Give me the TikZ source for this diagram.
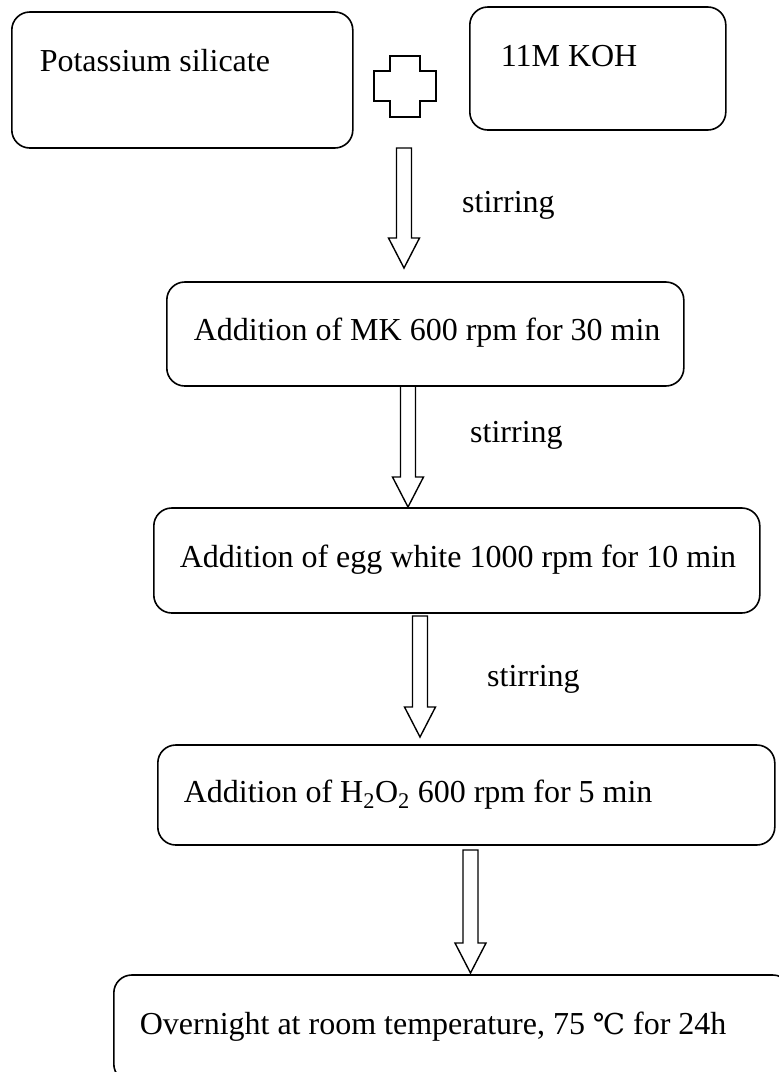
\documentclass[tikz,border=0pt]{standalone}
\usepackage{fontspec}
\setmainfont{Liberation Serif}
\newfontfamily\symfont[Scale=0.9]{DejaVu Serif}
\usetikzlibrary{calc}

\begin{document}
\begin{tikzpicture}[
  x=1pt, y=-1pt,
  stepbox/.style={draw, rounded corners=18pt, line width=1.6pt, inner sep=0pt, anchor=base west, font=\fontsize{32}{38}\selectfont},
  stirtext/.style={anchor=base west, inner sep=0pt, font=\fontsize{32}{38}\selectfont},
  flowarrow/.style={draw, line width=1.4pt, to path={let \p1=(\tikztostart), \p2=(\tikztotarget) in
    (\x1-7.5pt,\y1) -- (\x1-7.5pt,\y2+30pt) -- (\x1-15.5pt,\y2+30pt) -- (\x2,\y2)
    -- (\x1+15.5pt,\y2+30pt) -- (\x1+7.5pt,\y2+30pt) -- (\x1+7.5pt,\y1) -- cycle}}
]
\useasboundingbox (0,0) rectangle (779,1072);
\clip (0,0) rectangle (779,1072);

% Starting materials
\node[stepbox, text height=59pt, text depth=77pt] (silicate) at (11,71) {\makebox[341pt][l]{\hspace*{28pt}Potassium silicate}};
\node[stepbox, text height=59pt, text depth=64pt] (koh) at (469,66) {\makebox[256pt][l]{\hspace*{31pt}11M KOH}};
\draw[line width=1.6pt] (390,56) -- (420,56) -- (420,71) -- (436,71) -- (436,101) -- (420,101)
  -- (420,117) -- (390,117) -- (390,101) -- (374,101) -- (374,71) -- (390,71) -- cycle;

% Mixing steps
\node[stepbox, text height=58pt, text depth=46pt] (mk) at (166,340) {\makebox[517pt][l]{\hspace*{27pt}Addition of MK 600 rpm for 30 min}};
\node[stepbox, text height=59pt, text depth=46pt] (egg) at (153,567) {\makebox[606pt][l]{\hspace*{26pt}Addition of egg white 1000 rpm for 10 min}};
\node[stepbox, text height=57pt, text depth=43pt] (peroxide) at (157,802) {\makebox[617pt][l]{\hspace*{26pt}Addition of H\textsubscript{2}O\textsubscript{2} 600 rpm for 5 min}};
\node[stepbox, text height=59pt, text depth=48pt] (overnight) at (113,1034) {\makebox[677pt][l]{\hspace*{26pt}Overnight at room temperature, 75 {\symfont ℃} for 24h}};

% Arrows
\coordinate (a1) at (404,148);   \coordinate (t1) at (404,268);
\coordinate (a2) at (408,386);   \coordinate (t2) at (408,507);
\coordinate (a3) at (420,616);   \coordinate (t3) at (420,737);
\coordinate (a4) at (470.5,850); \coordinate (t4) at (470.5,973);
\draw[flowarrow] (a1) to (t1);
\draw[flowarrow] (a2) to (t2);
\draw[flowarrow] (a3) to (t3);
\draw[flowarrow] (a4) to (t4);

\node[stirtext] (stir1) at (462,212) {stirring};
\node[stirtext] (stir2) at (470,442) {stirring};
\node[stirtext] (stir3) at (487,686) {stirring};

\end{tikzpicture}
\end{document}
